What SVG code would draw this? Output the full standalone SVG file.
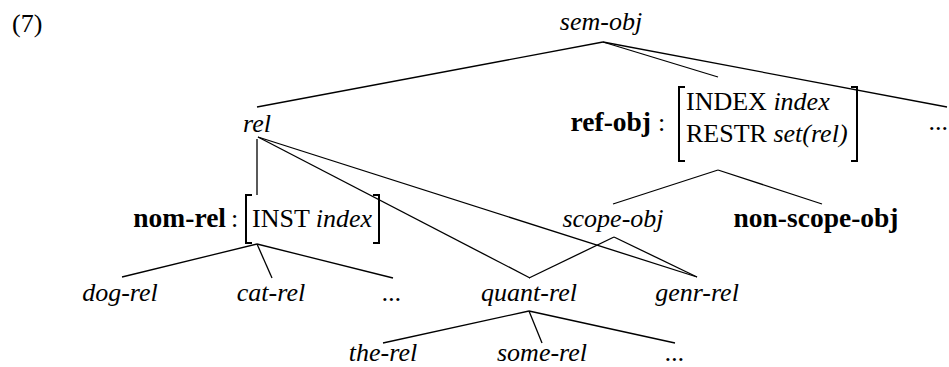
<svg xmlns="http://www.w3.org/2000/svg" width="949" height="367" viewBox="0 0 949 367" font-family="'Liberation Serif', 'DejaVu Serif', serif">
<style>
text{font-family:'Liberation Serif','DejaVu Serif',serif;font-size:26px;fill:#000}
.i{font-style:italic}
.b{font-weight:bold;font-size:27.5px}
.m{text-anchor:middle}
.e{text-anchor:end}
#connectors line{stroke:#000;stroke-width:1.3}
.br{fill:none;stroke:#000;stroke-width:2}
</style>
<rect width="949" height="367" fill="#fff"/>
<g id="connectors">
<line x1="603" y1="42" x2="257" y2="107"/>
<line x1="603" y1="42" x2="718" y2="77"/>
<line x1="603" y1="42" x2="947" y2="107"/>
<line x1="257" y1="139" x2="257" y2="195"/>
<line x1="258" y1="137" x2="530" y2="278"/>
<line x1="258" y1="137" x2="697" y2="277"/>
<line x1="718" y1="170" x2="613" y2="204"/>
<line x1="718" y1="170" x2="822" y2="204"/>
<line x1="614" y1="237" x2="529" y2="278"/>
<line x1="614" y1="237" x2="697" y2="277"/>
<line x1="257" y1="244" x2="122" y2="277"/>
<line x1="257" y1="244" x2="272" y2="278"/>
<line x1="257" y1="244" x2="393" y2="278"/>
<line x1="529" y1="311" x2="383" y2="343"/>
<line x1="529" y1="311" x2="542" y2="343"/>
<line x1="529" y1="311" x2="675" y2="343"/>
</g>
<g id="label7"><text x="12" y="32">(7)</text></g>
<g id="sem-obj"><text class="i m" x="601" y="30">sem-obj</text></g>
<g id="rel"><text class="i m" x="257" y="132">rel</text></g>
<g id="ref-obj">
<text class="b e" x="651" y="131">ref-obj</text>
<text x="658" y="131">:</text>
<path class="br" d="M685,87 H679 V161 H685"/>
<path class="br" d="M851,87 H857 V161 H851"/>
<text x="686" y="110">INDEX <tspan class="i">index</tspan></text>
<text x="686" y="142">RESTR <tspan class="i">set(rel)</tspan></text>
</g>
<g id="dots-top"><text class="e" x="948" y="130">...</text></g>
<g id="nom-rel">
<text class="b e" x="226" y="227">nom-rel</text>
<text x="231" y="227">:</text>
<path class="br" d="M252,195 H246 V243 H252"/>
<path class="br" d="M373,195 H379 V243 H373"/>
<text x="252" y="227">INST <tspan class="i">index</tspan></text>
</g>
<g id="scope-obj"><text class="i m" x="613" y="227">scope-obj</text></g>
<g id="non-scope-obj"><text class="b m" x="816" y="227">non-scope-obj</text></g>
<g id="dog-rel"><text class="i m" x="120" y="301">dog-rel</text></g>
<g id="cat-rel"><text class="i m" x="271" y="301">cat-rel</text></g>
<g id="dots-nom"><text class="i m" x="392" y="301">...</text></g>
<g id="quant-rel"><text class="i m" x="529" y="301">quant-rel</text></g>
<g id="genr-rel"><text class="i m" x="697" y="301">genr-rel</text></g>
<g id="the-rel"><text class="i m" x="383" y="361">the-rel</text></g>
<g id="some-rel"><text class="i m" x="542" y="361">some-rel</text></g>
<g id="dots-quant"><text class="i m" x="675" y="361">...</text></g>
</svg>
